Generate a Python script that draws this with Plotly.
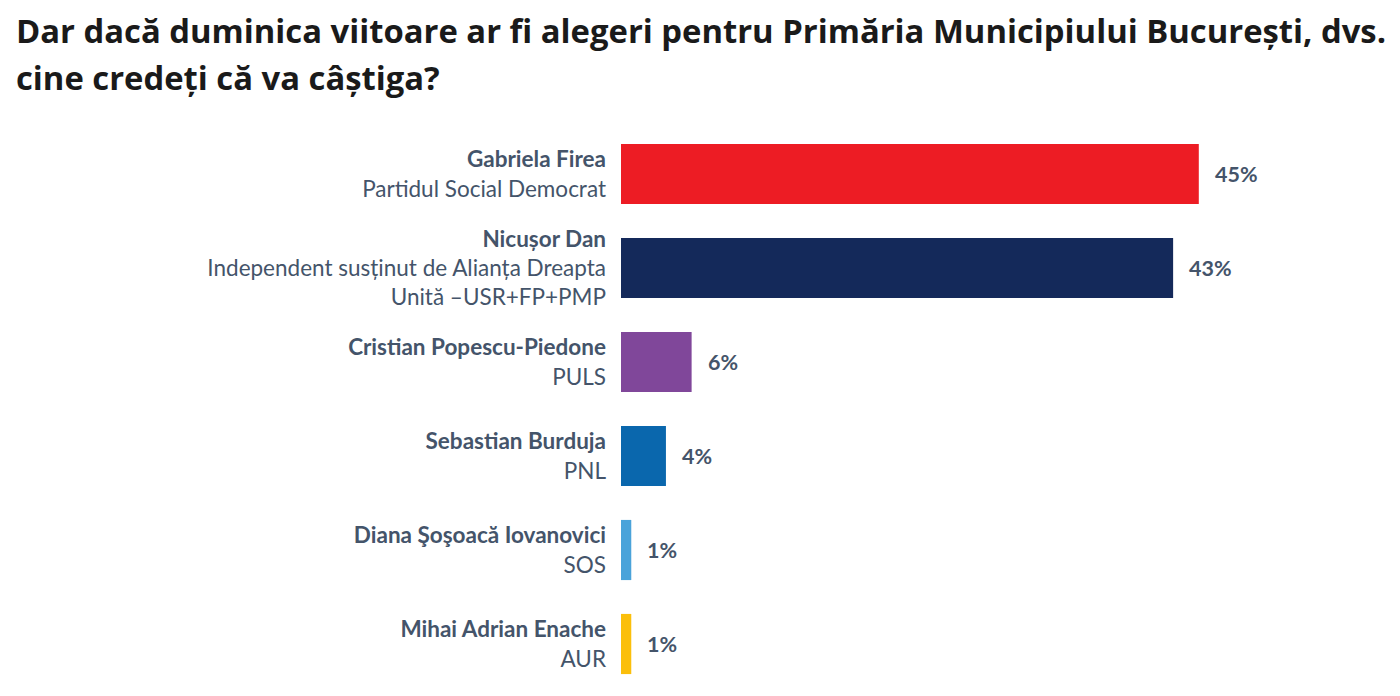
import plotly.graph_objects as go

names = ["Gabriela Firea", "Nicușor Dan", "Cristian Popescu-Piedone",
         "Sebastian Burduja", "Diana Şoşoacă Iovanovici", "Mihai Adrian Enache"]
parties = ["Partidul Social Democrat",
           "Independent susținut de Alianța Dreapta<br>Unită –USR+FP+PMP",
           "PULS", "PNL", "SOS", "AUR"]
values = [45, 43, 5.5, 3.5, 0.8, 0.8]
value_labels = ["45%", "43%", "6%", "4%", "1%", "1%"]
colors = ["#ED1C24", "#14295A", "#80479A", "#0A67AD", "#4AA3DA", "#FBBF0B"]

title_lines = ["Dar dacă duminica viitoare ar fi alegeri pentru Primăria Municipiului București, dvs.",
               "cine credeți că va câștiga?"]

# the page body has an 8px margin, so layout pixels are offset by 8
W, H = 1400, 696
ML, MR, MT, MB = 613, 58, 119, 13
FONT = "Lato"
TXT = "#44546A"

ticktext = [f"<b>{n}</b><br>{p}" for n, p in zip(names, parties)]

fig = go.Figure(go.Bar(
    x=values, y=names, orientation="h",
    marker=dict(color=colors, line=dict(width=0)),
    width=0.64, hoverinfo="skip",
))

for v, n, lab in zip(values, names, value_labels):
    fig.add_annotation(x=v, y=n, xref="x", yref="y", text=f"<b>{lab}</b>",
                       showarrow=False, xanchor="left", xshift=14,
                       font=dict(family=FONT, size=21.5, color=TXT))

plot_w = W - ML - MR
plot_h = H - MT - MB
for line, ypx in zip(title_lines, [23, 70]):
    fig.add_annotation(x=(6 - ML) / plot_w, y=(H - MB - ypx) / plot_h,
                       xref="paper", yref="paper", text=f"<b>{line}</b>",
                       showarrow=False, xanchor="left", yanchor="middle",
                       font=dict(family="Open Sans", size=32.8, color="#1A1A1A"))

fig.update_layout(
    width=W, height=H,
    margin=dict(l=ML, r=MR, t=MT, b=MB),
    paper_bgcolor="white", plot_bgcolor="white",
    showlegend=False,
    font=dict(family=FONT, color=TXT),
    xaxis=dict(range=[0, plot_w / 12.84], visible=False, fixedrange=True),
    yaxis=dict(autorange="reversed", tickmode="array", tickvals=names,
               ticktext=ticktext, tickfont=dict(family=FONT, size=22.5, color=TXT),
               showgrid=False, zeroline=False, showline=False, ticks="",
               ticklabelstandoff=14, automargin=False, fixedrange=True),
)

fig.write_html("out.html")
